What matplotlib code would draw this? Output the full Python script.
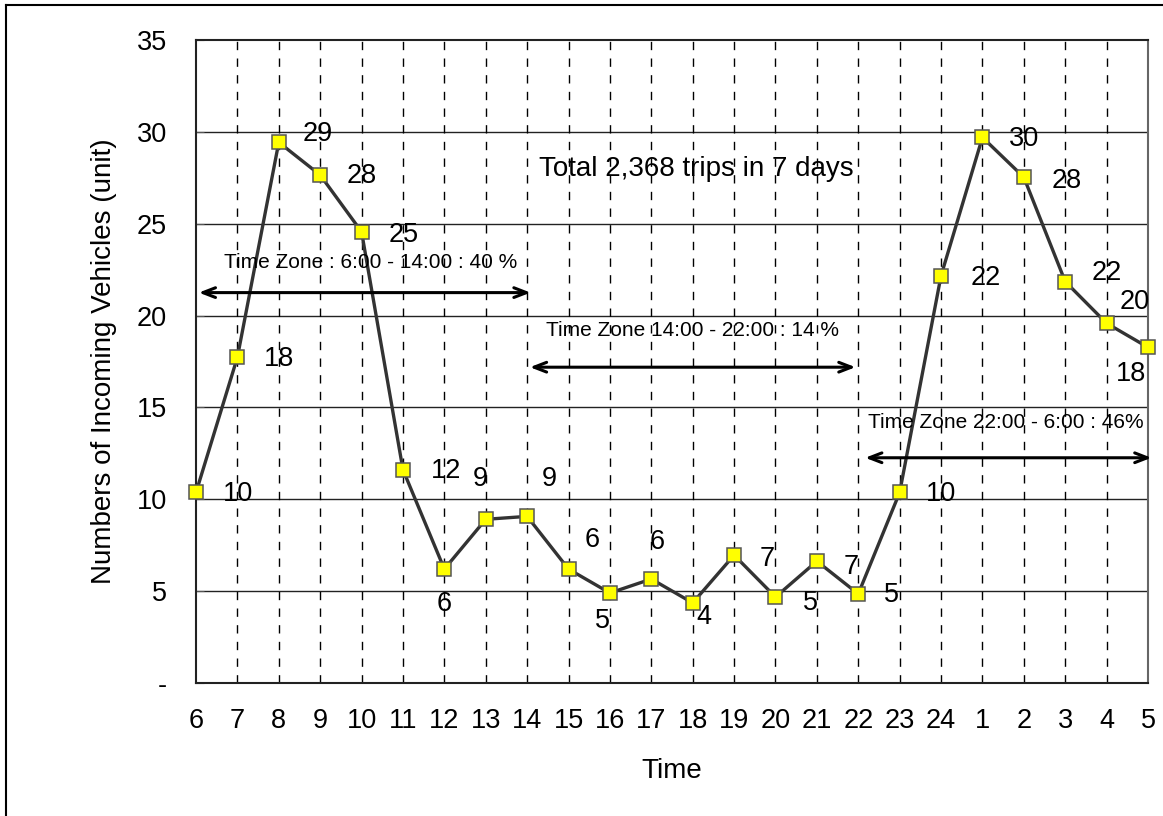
import matplotlib
matplotlib.use("Agg")
import matplotlib.pyplot as plt
from matplotlib.lines import Line2D

plt.rcParams['font.family'] = ['Liberation Sans', 'DejaVu Sans']

hours = ['6', '7', '8', '9', '10', '11', '12', '13', '14', '15', '16', '17',
         '18', '19', '20', '21', '22', '23', '24', '1', '2', '3', '4', '5']
vehicles = [10.37, 17.73, 29.43, 27.65, 24.56, 11.61, 6.20, 8.91, 9.07, 6.20,
            4.90, 5.66, 4.36, 6.96, 4.68, 6.63, 4.85, 10.37, 22.17, 29.70,
            27.53, 21.85, 19.58, 18.27]
labels = ['10', '18', '29', '28', '25', '12', '6', '9', '9', '6', '5', '6',
          '4', '7', '5', '7', '5', '10', '22', '30', '28', '22', '20', '18']
# label offsets in points (dx, dy)
offsets = [(30, -1), (30, -1), (28, 6), (30, -1), (30, -2), (31, -1), (0, -25),
           (-4, 29), (16, 27), (17, 21), (-5, -20), (4, 27), (8, -10), (24, -3),
           (25, -4), (25, -4), (24, -1), (30, -1), (32, -2), (30, -1), (31, -3),
           (30, 6), (20, 15), (-12, -19)]

zones = [
    (0, 8.15, 21.25, 'Time Zone : 6:00 - 14:00 : 40 %', 4.23, 22.87),
    (8, 16, 17.19, 'Time Zone 14:00 - 22:00 : 14 %', 12.0, 19.2),
    (16.1, 23.15, 12.26, 'Time Zone 22:00 - 6:00 : 46%', 19.56, 14.2),
]

fig = plt.figure(figsize=(11.63, 8.16), dpi=100)
ax = fig.add_axes([196 / 1163, 1 - 683 / 816, (1148 - 196) / 1163, (683 - 40) / 816])

x = list(range(len(hours)))
ax.plot(x, vehicles, color='#333333', lw=2.4, zorder=3,
        marker='s', markersize=9.5, markerfacecolor='#ffff00',
        markeredgecolor='#555555', markeredgewidth=1.1, clip_on=False)

for xi, v, lab, (dx, dy) in zip(x, vehicles, labels, offsets):
    ax.annotate(lab, (xi, v), xytext=(dx, dy), textcoords='offset points',
                ha='center', va='center', fontsize=19.5, color='black', zorder=4)

for x0, x1, y, txt, tx, ty in zones:
    ax.annotate('', xy=(x1, y), xytext=(x0, y),
                arrowprops=dict(arrowstyle='<->,head_length=0.9,head_width=0.35',
                                lw=2.2, color='black'), annotation_clip=False, zorder=5)
    ax.text(tx, ty, txt, ha='center', va='center', fontsize=15, zorder=5)

ax.text(12.09, 28.0, 'Total 2,368 trips in 7 days', ha='center', va='center', fontsize=20)

ax.set_xlim(0, len(hours) - 1)
ax.set_ylim(0, 35)
ax.set_xticks(x)
ax.set_xticklabels(hours, fontsize=19.5)
ax.set_yticks([0, 5, 10, 15, 20, 25, 30, 35])
ax.set_yticklabels(['-', '5', '10', '15', '20', '25', '30', '35'], fontsize=19.5)
ax.tick_params(axis='x', length=0, pad=18)
ax.tick_params(axis='y', direction='in', length=6, pad=21, color='#555555')

for yv in [5, 10, 15, 20, 25, 30]:
    ax.axhline(yv, color='#222222', lw=1, zorder=1)
for xi in x[1:-1]:
    ax.axvline(xi, color='black', lw=1, ls=(0, (6, 6)), zorder=1)

for s in ax.spines.values():
    s.set_color('#222222')
    s.set_linewidth(1.5)
ax.spines['right'].set_color('#666666')

ax.set_xlabel('Time', fontsize=20, labelpad=17)
ax.set_ylabel('Numbers of Incoming Vehicles (unit)', fontsize=20, labelpad=14)

fig.add_artist(Line2D([6 / 1163, 6 / 1163], [0, 1 - 5 / 816], transform=fig.transFigure,
                      color='black', lw=1.5))
fig.add_artist(Line2D([6 / 1163, 1], [1 - 5 / 816, 1 - 5 / 816], transform=fig.transFigure,
                      color='black', lw=1.5))

fig.savefig('out.png', dpi=100)
